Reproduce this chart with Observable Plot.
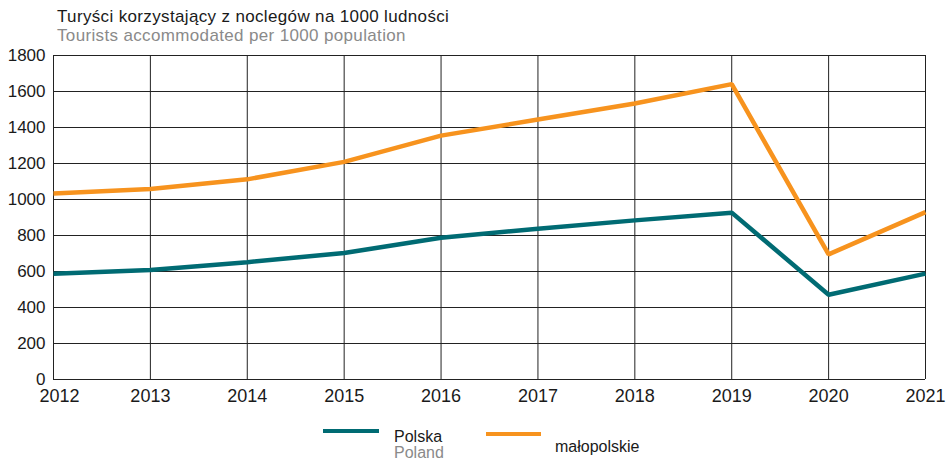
<!DOCTYPE html>
<html>
<head>
<meta charset="utf-8">
<script src="https://cdn.jsdelivr.net/npm/d3@7"></script>
<script src="https://cdn.jsdelivr.net/npm/@observablehq/plot@0.6"></script>
<style>
  body { margin: 0; background: #fff; font-family: "Liberation Sans", Arial, sans-serif; }
  #wrap { position: relative; width: 952px; height: 460px; }
  .t { position: absolute; white-space: nowrap; }
  .h { font-size: 17px; line-height: 17px; letter-spacing: 0.35px; }
  .l { font-size: 16px; line-height: 16px; }
  .sw { position: absolute; height: 4px; }
</style>
</head>
<body>
<div id="wrap">
  <div id="chart"></div>
  <div class="t h" style="left:57px; top:7.5px; color:#1a1a1a;">Turyści korzystający z noclegów na 1000 ludności</div>
  <div class="t h" style="left:57px; top:27px; color:#8a8a8a;">Tourists accommodated per 1000 population</div>
  <div class="sw" style="left:323px; top:429px; width:56px; background:#006b73;"></div>
  <div class="t l" style="left:394px; top:429px; color:#1a1a1a;">Polska</div>
  <div class="t l" style="left:394px; top:445px; color:#8a8a8a;">Poland</div>
  <div class="sw" style="left:486px; top:432px; width:55px; background:#f7931e;"></div>
  <div class="t l" style="left:555px; top:439px; color:#1a1a1a;">małopolskie</div>
</div>
<script>
const years = [2012, 2013, 2014, 2015, 2016, 2017, 2018, 2019, 2020, 2021];
const polska = [588, 608, 652, 703, 788, 838, 884, 927, 471, 588];
const malopolskie = [1033, 1058, 1112, 1209, 1355, 1444, 1533, 1641, 695, 930];
const yTicks = [0, 200, 400, 600, 800, 1000, 1200, 1400, 1600, 1800];

const rows = [];
years.forEach((y, i) => {
  rows.push({year: y, value: polska[i], series: "Polska"});
  rows.push({year: y, value: malopolskie[i], series: "małopolskie"});
});

const chart = Plot.plot({
  width: 952,
  height: 460,
  marginTop: 55,
  marginLeft: 53,
  marginRight: 27,
  marginBottom: 81,
  style: {fontFamily: "'Liberation Sans', Arial, sans-serif", fontSize: "17px", background: "#fff"},
  x: {domain: [2012, 2021], label: null},
  y: {domain: [0, 1800], label: null},
  color: {domain: ["Polska", "małopolskie"], range: ["#006b73", "#f7931e"]},
  marks: [
    Plot.ruleY(yTicks, {stroke: "#222", strokeWidth: 1}),
    Plot.ruleX(years, {stroke: "#222", strokeWidth: 1}),
    Plot.line(rows, {x: "year", y: "value", z: "series", stroke: "series", strokeWidth: 4.5, strokeLinejoin: "miter", strokeLinecap: "butt"}),
    Plot.axisX({ticks: years.slice(1), tickFormat: d => String(d), tickSize: 0, tickPadding: 10, fontSize: 18, fill: "#1a1a1a", label: null}),
    Plot.axisX({ticks: years.slice(0, 1), tickFormat: d => String(d), tickSize: 0, tickPadding: 10, fontSize: 18, fill: "#1a1a1a", dx: 6, label: null}),
    Plot.axisY({ticks: yTicks, tickFormat: d => String(d), tickSize: 0, tickPadding: 8, fontSize: 17, fill: "#1a1a1a", label: null})
  ]
});
document.getElementById("chart").appendChild(chart);
</script>
</body>
</html>
